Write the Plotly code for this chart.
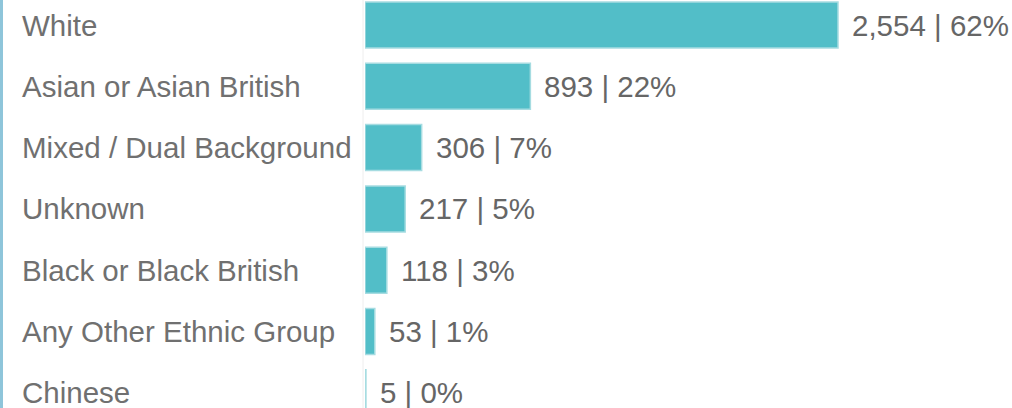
import plotly.graph_objects as go

categories = ["White", "Asian or Asian British", "Mixed / Dual Background", "Unknown",
              "Black or Black British", "Any Other Ethnic Group", "Chinese"]
counts = [2554, 893, 306, 217, 118, 53, 5]
percents = [62, 22, 7, 5, 3, 1, 0]

W, H = 1012, 408
L = 365
plot_w = W - L
px_per_unit = (838 - 365) / 2554
xmax = plot_w / px_per_unit
row = 61.3
y_top = -25 / row
y_bot = (H - 25) / row

FONT = "Liberation Sans"
TXT = "#707070"

fig = go.Figure()
fig.add_trace(go.Bar(
    x=counts, y=list(range(len(categories))), orientation="h",
    marker=dict(color="#52BEC8", line=dict(color="#A6DCE1", width=1.5)),
    hoverinfo="skip", showlegend=False,
))

annotations = []
for i, (c, n, p) in enumerate(zip(categories, counts, percents)):
    annotations.append(dict(
        x=(20 - L) / plot_w, xref="paper", y=i, yref="y", text=c,
        xanchor="left", yanchor="middle", showarrow=False,
        font=dict(family=FONT, size=29.5, color=TXT),
    ))
    annotations.append(dict(
        x=n, xref="x", y=i, yref="y", text=f"{n:,} | {p}%",
        xanchor="left", yanchor="middle", showarrow=False, xshift=12,
        font=dict(family=FONT, size=29.5, color="#666666"),
    ))

shapes = [
    dict(type="rect", xref="paper", yref="paper",
         x0=(0 - L) / plot_w, x1=(3 - L) / plot_w, y0=0, y1=1,
         fillcolor="#8EC5DA", line=dict(width=0), layer="above"),
    dict(type="line", xref="paper", yref="paper",
         x0=(363 - L) / plot_w, x1=(363 - L) / plot_w, y0=0, y1=1,
         line=dict(color="#EEEEEE", width=1), layer="below"),
]

fig.update_layout(
    width=W, height=H,
    margin=dict(l=L, r=0, t=0, b=0),
    paper_bgcolor="white", plot_bgcolor="white",
    bargap=0.25,
    xaxis=dict(range=[0, xmax], visible=False, fixedrange=True),
    yaxis=dict(range=[y_bot, y_top], visible=False, fixedrange=True),
    annotations=annotations,
    shapes=shapes,
)

fig.write_html("out.html")
